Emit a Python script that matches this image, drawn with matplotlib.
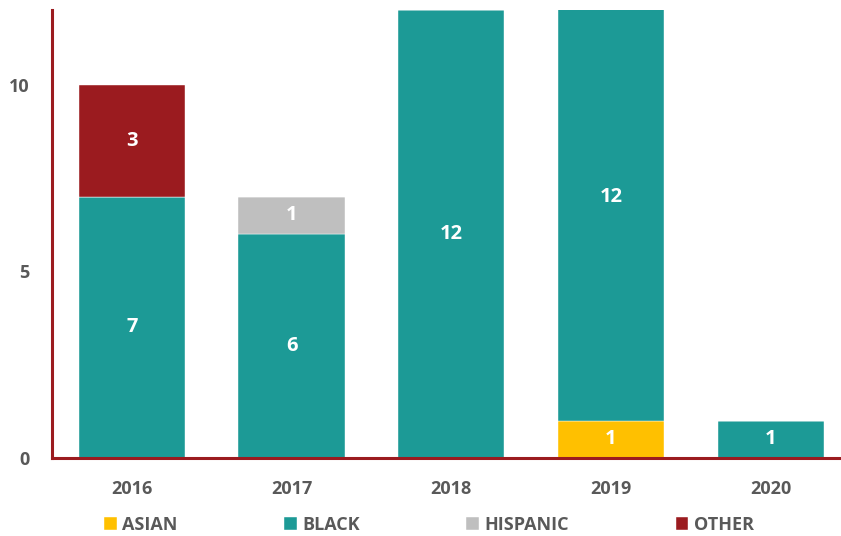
import numpy as np
import matplotlib.pyplot as plt

plt.rcParams['font.family'] = ['Open Sans', 'DejaVu Sans']

years = ['2016', '2017', '2018', '2019', '2020']
asian = [0, 0, 0, 1, 0]
black = [7, 6, 12, 12, 1]
hispanic = [0, 1, 0, 0, 0]
other = [3, 0, 0, 0, 0]

series = [('ASIAN', asian, '#FFC000'),
          ('BLACK', black, '#1C9A96'),
          ('HISPANIC', hispanic, '#BFBFBF'),
          ('OTHER', other, '#9B1B1F')]

grey = '#595959'
spine_col = '#9B1B1F'

fig = plt.figure(figsize=(8.41, 5.36), dpi=100)
ax = fig.add_axes([52 / 841, 78 / 536, 789 / 841, 448 / 536])

x = np.arange(len(years))
bottom = np.zeros(len(years))
handles = []
for name, vals, col in series:
    vals = np.array(vals, dtype=float)
    bars = ax.bar(x, vals, 0.665, bottom=bottom, color=col, label=name,
                  edgecolor='white', linewidth=0.3, zorder=2)
    # labels at the true segment centre (segments may run past the top)
    for xi, b, v in zip(x, bottom, vals):
        if v > 0:
            ax.text(xi, b + v / 2, str(int(v)), ha='center', va='center',
                    color='white', fontsize=14.5, fontweight='bold', zorder=3)
    handles.append(bars)
    bottom += vals

ax.set_xlim(-0.5, 4.44)
ax.set_ylim(0, 12)
ax.set_yticks([0, 5, 10])
ax.set_xticks(x)
ax.set_xticklabels(years)

for s in ['top', 'right']:
    ax.spines[s].set_visible(False)
for s in ['left', 'bottom']:
    ax.spines[s].set_color(spine_col)
    ax.spines[s].set_linewidth(2.2)

ax.tick_params(axis='y', length=0, pad=16, labelsize=13, labelcolor=grey)
ax.tick_params(axis='x', length=0, pad=16, labelsize=13, labelcolor=grey)
for lbl in ax.get_xticklabels() + ax.get_yticklabels():
    lbl.set_fontweight('bold')

leg = fig.legend(handles=handles, loc='center', bbox_to_anchor=(0.51, 1 - 525 / 536),
                 ncol=4, frameon=False, fontsize=13, handlelength=0.7,
                 handleheight=0.7, handletextpad=0.3, columnspacing=5.9)
for t in leg.get_texts():
    t.set_color(grey)
    t.set_fontweight('bold')

fig.savefig('out.png', dpi=100)
